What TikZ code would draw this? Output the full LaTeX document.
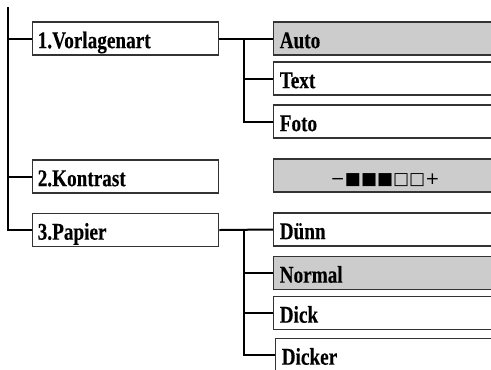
\documentclass[tikz,border=0pt]{standalone}
\usepackage{fontspec}
\newfontfamily\lbfont{Liberation Serif Bold}[FakeStretch=0.8,FakeBold=0.3]
\newfontfamily\symfont{DejaVu Sans}
\begin{document}
\begin{tikzpicture}[x=0.75pt,y=-0.75pt,
  lbox/.style={draw=black!80,line width=1.1pt,anchor=west,minimum height=24.75pt,
    inner xsep=3.75pt,text width=132pt,align=left,minimum width=139.5pt,
    text height=14.5pt,text depth=0pt,font=\lbfont\fontsize{18pt}{19pt}\selectfont},
  rbox/.style={lbox,minimum width=195pt,text width=186pt,inner xsep=4.5pt},
  sel/.style={fill=black!20},
  conn/.style={line width=1.5pt,black}]
\useasboundingbox (0,0) rectangle (491,369);
\clip (0,0) rectangle (491,369);
% menu boxes
\node[lbox] (m1) at (32,38.5) {1.Vorlagenart};
\node[lbox] (m2) at (32,176.5) {2.Kontrast};
\node[lbox] (m3) at (32,230) {3.Papier};
% option boxes
\node[rbox,sel] (a) at (273,38.5) {Auto};
\node[rbox] (t) at (273,78.5) {Text};
\node[rbox] (f) at (273,121.5) {Foto};
\node[rbox,sel] (k) at (273,175.5) {\hspace*{38.25pt}{\symfont\fontsize{12.75pt}{13pt}\selectfont\raisebox{0.6pt}{−■■■□□+}}};
\node[rbox] (d1) at (273,229.5) {Dünn};
\node[rbox,sel] (d2) at (273,273) {Normal};
\node[rbox] (d3) at (273,313) {Dick};
\node[rbox] (d4) at (275,355) {Dicker};
% connectors
\coordinate (trunk) at (8,7);
\coordinate (j1) at (244,38.5);
\coordinate (j3) at (244,230);
\draw[conn] (trunk) |- (m1.west);
\draw[conn] (trunk) |- (m2.west);
\draw[conn] (trunk) |- (m3.west);
\draw[conn] (m1.east) -- (a.west);
\draw[conn] (j1) |- (t.west);
\draw[conn] (j1) |- (f.west);
\draw[conn] (m3.east) -- (d1.west);
\draw[conn] (j3) |- (d2.west);
\draw[conn] (j3) |- (d3.west);
\draw[conn] (j3) |- (d4.west);
\end{tikzpicture}
\end{document}
